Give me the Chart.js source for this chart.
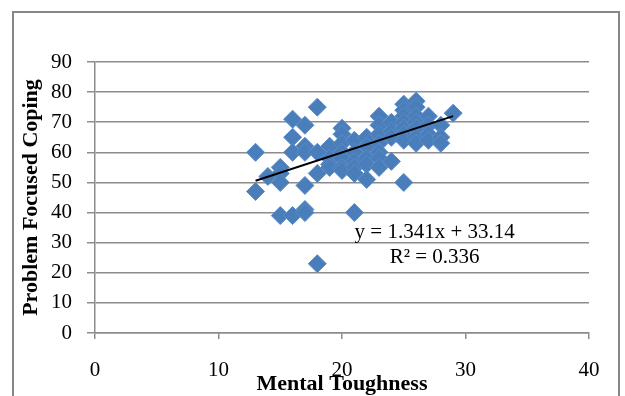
<!DOCTYPE html>
<html>
<head>
<meta charset="utf-8">
<script src="https://cdn.jsdelivr.net/npm/chart.js@4/dist/chart.umd.min.js"></script>
<style>
  html, body { margin: 0; padding: 0; background: #fff; overflow: hidden; }
  #wrap { position: relative; width: 625px; height: 396px; }
</style>
</head>
<body>
<div id="wrap"><canvas id="chart"></canvas></div>
<script>
// Mental Toughness (x) vs Problem Focused Coping (y)
const mentalToughness = [
  13, 13,
  14,
  15, 15, 15, 15,
  16, 16, 16, 16,
  17, 17, 17, 17, 17, 17,
  18, 18, 18, 18,
  19, 19, 19, 19,
  20, 20, 20, 20, 20, 20, 20,
  21, 21, 21, 21, 21, 21,
  22, 22, 22, 22, 22,
  23, 23, 23, 23, 23, 23, 23,
  24, 24, 24, 24,
  25, 25, 25, 25, 25, 25, 25, 25,
  26, 26, 26, 26, 26, 26, 26,
  27, 27, 27, 27,
  28, 28, 28,
  29
];
const problemCoping = [
  60, 47,
  52,
  55, 53, 50, 39,
  71, 65, 60, 39,
  69, 62, 60, 49, 41, 40,
  75, 60, 53, 23,
  62, 58, 56, 55,
  68, 66, 63, 60, 58, 55, 54,
  64, 60, 57, 55, 53, 40,
  65, 62, 58, 56, 51,
  72, 69, 66, 63, 60, 58, 55,
  70, 67, 65, 57,
  76, 74, 72, 70, 68, 66, 64, 50,
  77, 75, 72, 70, 68, 65, 63,
  72, 69, 66, 64,
  69, 65, 63,
  73
];

// linear trendline end points (y = 1.341x + 33.14)
const trendX = [13, 29];
const trendY = [50.57, 72.03];

const xTicks = [0, 10, 20, 30, 40];
const yTicks = [0, 10, 20, 30, 40, 50, 60, 70, 80, 90];
const equationLines = ['y = 1.341x + 33.14', 'R\u00B2 = 0.336'];

const serif = '"Liberation Serif", "Times New Roman", serif';
const gridGray = '#8c8c8c';

// borde exterior y ecuacion de la linea de tendencia
const extras = {
  id: 'extras',
  afterDraw(chart) {
    const ctx = chart.ctx;
    const xs = chart.scales.x, ys = chart.scales.y;
    ctx.save();
    ctx.strokeStyle = '#878787';
    ctx.lineWidth = 2;
    ctx.strokeRect(13, 12, 606, 400);
    ctx.fillStyle = '#000';
    ctx.font = '21px ' + serif;
    ctx.textAlign = 'center';
    ctx.textBaseline = 'middle';
    ctx.fillText(equationLines[0], xs.getPixelForValue(27.5), ys.getPixelForValue(33.3));
    ctx.fillText(equationLines[1], xs.getPixelForValue(27.5), ys.getPixelForValue(25));
    ctx.restore();
  }
};

new Chart(document.getElementById('chart'), {
  type: 'scatter',
  data: {
    datasets: [
      {
        type: 'line',
        data: trendX.map((x, i) => ({ x: x, y: trendY[i] })),
        borderColor: '#000',
        borderWidth: 2,
        pointRadius: 0,
        fill: false
      },
      {
        data: mentalToughness.map((x, i) => ({ x: x, y: problemCoping[i] })),
        pointStyle: 'rectRot',
        pointRadius: 9,
        backgroundColor: '#4a7ebb',
        borderColor: '#5b8bc5',
        borderWidth: 1
      }
    ]
  },
  options: {
    responsive: true,
    maintainAspectRatio: false,
    animation: false,
    layout: { padding: { left: 0, right: 36, top: 62, bottom: 0 } },
    plugins: {
      legend: { display: false },
      tooltip: { enabled: false }
    },
    scales: {
      x: {
        type: 'linear',
        min: 0,
        max: 40,
        afterBuildTicks: s => { s.ticks = xTicks.map(v => ({ value: v })); },
        afterFit: s => { s.height = 63; },
        grid: { drawOnChartArea: false, drawTicks: true, tickLength: 6, color: gridGray, lineWidth: 1.5 },
        border: { color: gridGray, width: 1.5 },
        ticks: { padding: 19, color: '#000', font: { family: serif, size: 21 } },
        title: {
          display: true,
          text: 'Mental Toughness',
          color: '#000',
          font: { family: serif, size: 22, weight: 'bold' },
          padding: { top: 0, bottom: -2 }
        }
      },
      y: {
        min: 0,
        max: 90,
        afterBuildTicks: s => { s.ticks = yTicks.map(v => ({ value: v })); },
        afterFit: s => { s.width = 95; },
        grid: { color: gridGray, lineWidth: 1.5, tickLength: 8 },
        border: { color: gridGray, width: 1.5 },
        ticks: { padding: 15, color: '#000', font: { family: serif, size: 21 } },
        title: {
          display: true,
          text: 'Problem Focused Coping',
          color: '#000',
          font: { family: serif, size: 22, weight: 'bold' },
          padding: { top: 18, bottom: 0 }
        }
      }
    }
  },
  plugins: [extras]
});
</script>
</body>
</html>
